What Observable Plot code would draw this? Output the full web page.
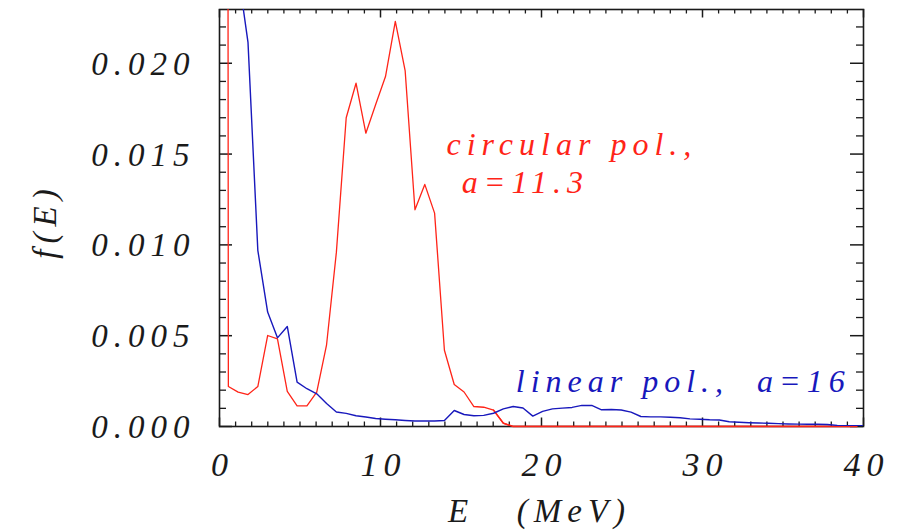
<!DOCTYPE html>
<html><head><meta charset="utf-8">
<script src="https://cdn.jsdelivr.net/npm/d3@7"></script>
<script src="https://cdn.jsdelivr.net/npm/@observablehq/plot@0.6"></script>
<style>
body{margin:0;background:#fff;}
#chart svg text{font-family:"Liberation Serif","DejaVu Serif",serif;font-style:italic;letter-spacing:6px;}
</style></head><body><div id="chart"></div>
<script>
// Energy grid (MeV)
const energy = [0, 0.55, 1.16, 1.77, 2.38, 2.99, 3.60, 4.21, 4.82, 5.43,
  6.04, 6.65, 7.26, 7.87, 8.48, 9.09, 9.70, 10.31, 10.92, 11.53,
  12.14, 12.75, 13.36, 13.97, 14.58, 15.19, 15.80, 16.41, 17.02, 17.63,
  18.24, 18.85, 19.46, 20.07, 20.68, 21.29, 21.90, 22.51, 23.12, 23.73,
  24.34, 24.95, 25.56, 26.17, 26.78, 27.39, 28.00, 28.61, 29.22, 29.83,
  30.44, 31.05, 31.66, 32.27, 32.88, 33.49, 34.10, 34.71, 35.32, 35.93,
  36.54, 37.15, 37.76, 38.37, 38.98, 39.59, 40.20];
// circular polarization, a=11.3
const circular = [0.6, 0.0022, 0.00189, 0.00176, 0.0022, 0.00501, 0.00483, 0.00194, 0.00114, 0.00114,
  0.00189, 0.0045, 0.0096, 0.0170, 0.0189, 0.01615, 0.01773, 0.01927, 0.0223, 0.0196,
  0.01193, 0.01333, 0.01175, 0.0042, 0.00231, 0.0019, 0.0011, 0.00106, 0.0009, 0.00018,
  0, 0, 0, 0, 0, 0, 0, 0, 0, 0,
  0, 0, 0, 0, 0, 0, 0, 0, 0, 0,
  0, 0, 0, 0, 0, 0, 0, 0, 0, 0,
  0, 0, 0, 0, 0, 0, 0];
// linear polarization, a=16
const linear = [0.06, 0.033, 0.0250, 0.02115, 0.0097, 0.0063, 0.00488, 0.00551, 0.00244, 0.00208,
  0.0018, 0.00127, 0.0008, 0.00072, 0.00059, 0.00052, 0.00044, 0.0004, 0.00037, 0.00033,
  0.0003, 0.0003, 0.0003, 0.00033, 0.00088, 0.00066, 0.00059, 0.00061, 0.00073, 0.00097,
  0.0011, 0.00102, 0.00057, 0.00083, 0.00097, 0.00101, 0.00105, 0.00116, 0.00116, 0.00092,
  0.00094, 0.00091, 0.00079, 0.00055, 0.00053, 0.00053, 0.00051, 0.00048, 0.00042, 0.0004,
  0.00037, 0.00036, 0.00026, 0.00023, 0.00021, 0.00019, 0.00018, 0.00016, 0.00014, 0.00013,
  0.00012, 0.00012, 0.00011, 0.00006, 0.00004, 0.00004, 0.00004];

const xTicks = [0, 10, 20, 30, 40];
const xTickLabels = ["0", "10", "20", "30", "40"];
const yTicks = [0, 0.005, 0.010, 0.015, 0.020];
const yTickLabels = ["0.000", "0.005", "0.010", "0.015", "0.020"];
const xMinor = d3.range(1, 40).filter(v => v % 10 !== 0);
const yMinor = d3.range(1, 23).filter(v => v % 5 !== 0).map(v => v / 1000);

const circRows = energy.map((e, i) => ({E: e, f: circular[i]}));
const linRows = energy.map((e, i) => ({E: e, f: linear[i]}));

const W = 907, H = 531, mL = 219, mR = 44, mT = 9, mB = 105;
const ph = H - mT - mB, pw = W - mL - mR;
const RED = "#ff2418", BLUE = "#1818bc", INK = "#1a1a1a";
const font = "Liberation Serif";

const chart = Plot.plot({
  width: W, height: H,
  marginLeft: mL, marginRight: mR, marginTop: mT, marginBottom: mB,
  style: {background: "#fff"},
  x: {domain: [0, 40], axis: null},
  y: {domain: [0, 0.02296], axis: null},
  marks: [
    Plot.frame({stroke: INK, strokeWidth: 1.6}),
    // bottom / top ticks
    Plot.tickX(xTicks, {x: d => d, insetTop: ph - 8.5, stroke: INK, strokeWidth: 1.5}),
    Plot.tickX(xMinor, {x: d => d, insetTop: ph - 4.5, stroke: INK, strokeWidth: 1.3}),
    Plot.tickX(xTicks, {x: d => d, insetBottom: ph - 8.5, stroke: INK, strokeWidth: 1.5}),
    Plot.tickX(xMinor, {x: d => d, insetBottom: ph - 4.5, stroke: INK, strokeWidth: 1.3}),
    // left / right ticks
    Plot.tickY(yTicks, {y: d => d, insetRight: pw - 13, stroke: INK, strokeWidth: 1.5}),
    Plot.tickY(yMinor, {y: d => d, insetRight: pw - 7, stroke: INK, strokeWidth: 1.3}),
    Plot.tickY(yTicks, {y: d => d, insetLeft: pw - 13, stroke: INK, strokeWidth: 1.5}),
    Plot.tickY(yMinor, {y: d => d, insetLeft: pw - 7, stroke: INK, strokeWidth: 1.3}),
    // curves
    Plot.line(circRows, {x: "E", y: "f", stroke: RED, strokeWidth: 1.3, clip: true}),
    Plot.line(circRows, {filter: d => d.E >= 17 && d.E <= 40, x: "E", y: "f", stroke: RED, strokeWidth: 1.4}),
    Plot.line(linRows, {x: "E", y: "f", stroke: BLUE, strokeWidth: 1.4, clip: true}),
    // tick labels
    Plot.text(xTicks, {x: d => d, text: (d, i) => xTickLabels[i], frameAnchor: "bottom", dy: 49, dx: 3, fontSize: 34, fontFamily: font, fontStyle: "italic", fill: INK}),
    Plot.text(yTicks, {y: d => d, text: (d, i) => yTickLabels[i], frameAnchor: "left", textAnchor: "end", dx: -24, dy: 1, fontSize: 33, fontFamily: font, fontStyle: "italic", fill: INK}),
    // axis titles
    Plot.text(["E   (MeV)"], {text: d => d, frameAnchor: "bottom", dy: 95, dx: -2, fontSize: 33, fontFamily: font, fontStyle: "italic", fill: INK}),
    Plot.text(["f(E)"], {text: d => d, frameAnchor: "left", textAnchor: "middle", dx: -174, dy: 3, rotate: -90, fontSize: 33, fontFamily: font, fontStyle: "italic", fill: INK}),
    // annotations
    Plot.text(["circular pol.,"], {text: d => d, x: () => 14.1, y: () => 0.0155, textAnchor: "start", fontSize: 32, fontFamily: font, fontStyle: "italic", fill: RED}),
    Plot.text(["a=11.3"], {text: d => d, x: () => 15.05, y: () => 0.01343, textAnchor: "start", fontSize: 32, fontFamily: font, fontStyle: "italic", fill: RED}),
    Plot.text(["linear pol.,  a=16"], {text: d => d, x: () => 18.4, y: () => 0.00248, textAnchor: "start", fontSize: 32, fontFamily: font, fontStyle: "italic", fill: BLUE})
  ]
});
document.getElementById("chart").appendChild(chart);
</script></body></html>
